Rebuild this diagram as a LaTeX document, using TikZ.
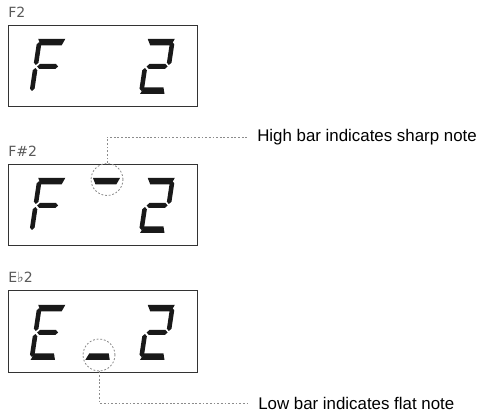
\documentclass[tikz,border=0pt]{standalone}
\usepackage{fontspec}
\setmainfont{Liberation Sans}
\newfontfamily\lblfont{DejaVu Sans}
\usetikzlibrary{positioning}

% seven segments of one LCD character, local frame 28 x 55, y up
\newcommand{\lcdsega}{\fill[segfill] (1,55) -- (28,55) -- (25.3,48.5) -- (4.5,48.5) -- cycle;}
\newcommand{\lcdsegg}{\fill[segfill] (4,27.5) -- (6.5,30) -- (22.5,30) -- (25,27.5) -- (22.5,25) -- (6.5,25) -- cycle;}
\newcommand{\lcdsegd}{\fill[segfill] (1.5,0) -- (26,0) -- (24,6.5) -- (4.5,6.5) -- cycle;}
\newcommand{\vseg}[3]{\fill[segfill] (#1,#2) -- (#1+2.3,#2+2.3) -- (#1+2.3,#3-2.3) -- (#1,#3) -- (#1-2.3,#3-2.3) -- (#1-2.3,#2+2.3) -- cycle;}
\newcommand{\lcdsegf}{\vseg{2.5}{29}{52}}
\newcommand{\lcdsege}{\vseg{2.5}{3}{26}}
\newcommand{\lcdsegb}{\vseg{26}{29}{52}}
\newcommand{\lcdsegc}{\vseg{26}{3}{26}}

\tikzset{
  segfill/.style={fill=black!90},
  pics/lcd/.style={code={\foreach \s in {#1}{\csname lcdseg\s\endcsname}}},
  lcdchar/.style={yscale=-1,xslant=-.15}
}

\begin{document}
\begin{tikzpicture}[x=0.025cm,y=-0.025cm,
lcdbox/.style={draw=black!80,line width=.7pt,minimum width=134.6pt,minimum height=58.1pt,inner sep=0pt},
lcdlabel/.style={anchor=base west,inner sep=0pt,text=black!65,font=\lblfont\fontsize{10}{12}\selectfont},
ring/.style={circle,draw=black!45,line width=.6pt,dash pattern=on 1.3pt off 1.3pt,minimum size=22.7pt,inner sep=0pt},
leader/.style={draw=black!45,line width=.6pt,dash pattern=on 1.3pt off 1.3pt},
note/.style={anchor=west,inner sep=7.1pt,font=\fontsize{12}{14}\selectfont}]
\useasboundingbox (0,0) rectangle (481,411);

% three displays
\node[lcdbox] (box1) at (103,66) {};
\node[lcdbox] (box2) at (103,205) {};
\node[lcdbox] (box3) at (103,331.5) {};
\node[lcdlabel] (lbl1) at (8,18) {F2};
\node[lcdlabel] (lbl2) at (8,157) {F\#2};
\node[lcdlabel] (lbl3) at (8,283) {E♭2};

% characters
\pic[shift={(29,94)},lcdchar] {lcd={a,f,e,g}};
\pic[shift={(138.5,94)},lcdchar] {lcd={a,b,g,e,d}};
\pic[shift={(29,233)},lcdchar] {lcd={a,f,e,g}};
\pic[shift={(83.75,233)},lcdchar] {lcd={a}};
\pic[shift={(138.5,233)},lcdchar] {lcd={a,b,g,e,d}};
\pic[shift={(29,360)},lcdchar] {lcd={a,f,e,g,d}};
\pic[shift={(83.75,360)},lcdchar] {lcd={d}};
\pic[shift={(138.5,360)},lcdchar] {lcd={a,b,g,e,d}};

% callouts
\node[ring] (sharp) at (107,179.5) {};
\node[ring] (flat) at (99,355) {};
\node[note] (sharpnote) at (247,137) {High bar indicates sharp note};
\node[note] (flatnote) at (248,403) {Low bar indicates flat note};
\draw[leader] (sharp.north) |- (sharpnote.west);
\draw[leader] (flat.south) |- (flatnote.west);
\end{tikzpicture}
\end{document}
